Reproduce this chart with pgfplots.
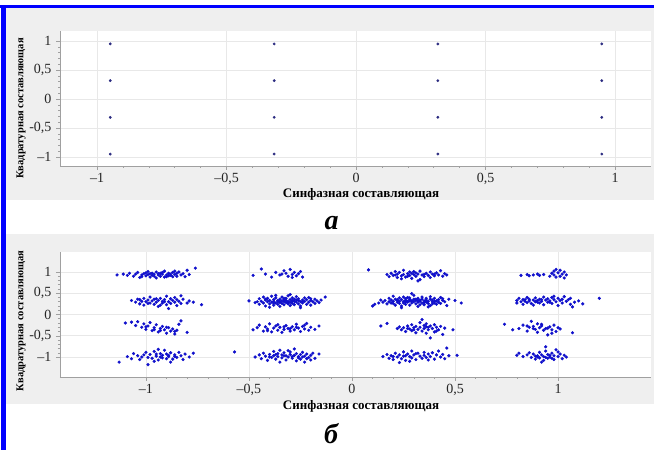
\documentclass[border=0pt]{standalone}
\usepackage{fontspec}
\setmainfont{Liberation Serif}
\usepackage{pgfplots}
\usepackage{pgfplotstable}
\pgfplotsset{compat=1.18}

\definecolor{panelbg}{HTML}{EFEFEF}
\definecolor{frameblue}{HTML}{0000FF}
\definecolor{idealpt}{HTML}{2A2A80}
\definecolor{noisypt}{HTML}{1010CC}
\definecolor{axgray}{HTML}{A0A0A0}
\definecolor{gridgray}{HTML}{E8E8E8}

% ideal 16-QAM constellation
\pgfplotstableread{
x y
-0.949 0.949
-0.949 0.316
-0.949 -0.316
-0.949 -0.949
-0.316 0.949
-0.316 0.316
-0.316 -0.316
-0.316 -0.949
0.316 0.949
0.316 0.316
0.316 -0.316
0.316 -0.949
0.949 0.949
0.949 0.316
0.949 -0.316
0.949 -0.949
}\ideal

% received symbols, column I = -0.95
\pgfplotstableread{
x y
-1.14 0.93
-1.11 0.95
-1.09 0.92
-1.08 0.97
-1.06 0.90
-1.05 0.95
-1.04 0.99
-1.03 0.87
-1.02 0.93
-1.01 0.96
-1.00 0.91
-0.99 1.01
-0.99 0.94
-0.98 0.88
-0.97 0.97
-0.97 0.92
-0.96 0.95
-0.95 0.86
-0.95 1.00
-0.94 0.93
-0.93 0.97
-0.93 0.90
-0.92 0.95
-0.91 0.88
-0.91 1.02
-0.90 0.93
-0.89 0.97
-0.89 0.91
-0.88 0.95
-0.87 0.99
-0.87 0.89
-0.86 0.94
-0.85 0.97
-0.85 0.90
-0.84 1.00
-0.83 0.93
-0.82 0.96
-0.81 0.89
-0.80 1.04
-0.79 0.94
-0.76 1.09
-1.00 0.98
-0.96 0.90
-0.92 0.99
-0.94 0.96
-0.90 0.89
-0.88 0.92
-1.02 0.89
-0.98 0.96
-0.86 1.02
-1.07 0.33
-1.05 0.29
-1.04 0.36
-1.03 0.25
-1.02 0.31
-1.01 0.38
-1.01 0.22
-1.00 0.30
-0.99 0.34
-0.98 0.27
-0.98 0.41
-0.97 0.32
-0.96 0.24
-0.96 0.36
-0.95 0.29
-0.94 0.33
-0.94 0.19
-0.93 0.38
-0.92 0.27
-0.92 0.31
-0.91 0.35
-0.90 0.23
-0.90 0.43
-0.89 0.30
-0.88 0.37
-0.88 0.26
-0.87 0.33
-0.86 0.29
-0.86 0.40
-0.85 0.21
-0.85 0.35
-0.84 0.31
-0.83 0.26
-0.83 0.44
-0.82 0.36
-0.80 0.27
-0.79 0.32
-0.77 0.29
-0.73 0.23
-0.99 0.26
-0.95 0.37
-0.93 0.22
-0.89 0.14
-1.03 0.35
-0.91 0.30
-1.10 -0.20
-1.07 -0.18
-1.05 -0.26
-1.04 -0.17
-1.02 -0.30
-1.01 -0.22
-1.00 -0.35
-0.99 -0.27
-0.98 -0.19
-0.97 -0.38
-0.96 -0.31
-0.95 -0.24
-0.94 -0.41
-0.93 -0.33
-0.92 -0.28
-0.91 -0.36
-0.90 -0.44
-0.89 -0.31
-0.88 -0.39
-0.87 -0.34
-0.86 -0.46
-0.85 -0.37
-0.84 -0.23
-0.83 -0.15
-0.80 -0.42
-0.93 -0.38
-1.00 -0.29
-0.96 -0.36
-0.90 -0.30
-0.86 -0.40
-1.13 -1.12
-1.09 -0.99
-1.07 -1.04
-1.06 -0.92
-1.04 -0.97
-1.03 -1.06
-1.01 -0.95
-1.00 -0.89
-0.99 -1.01
-0.99 -1.18
-0.98 -0.94
-0.97 -1.03
-0.96 -0.87
-0.95 -0.98
-0.94 -1.07
-0.93 -0.92
-0.93 -1.00
-0.92 -0.96
-0.91 -0.84
-0.90 -1.04
-0.90 -0.93
-0.89 -0.99
-0.88 -0.90
-0.87 -1.05
-0.86 -0.95
-0.85 -1.01
-0.84 -0.89
-0.83 -0.97
-0.82 -1.06
-0.81 -0.93
-0.79 -1.00
-0.77 -0.91
-0.96 -1.10
-0.92 -1.02
-0.95 -0.93
-0.89 -0.96
-1.02 -1.00
-0.88 -1.12
-0.94 -0.82
-0.86 -0.99
}\colA

% received symbols, column I = -0.32
\pgfplotstableread{
x y
-0.48 0.92
-0.44 1.07
-0.42 0.95
-0.39 0.88
-0.37 0.99
-0.35 0.93
-0.33 1.03
-0.32 0.97
-0.31 0.90
-0.30 1.06
-0.29 0.94
-0.28 0.99
-0.27 0.91
-0.26 0.96
-0.25 1.01
-0.24 0.88
-0.34 0.95
-0.29 0.87
-0.50 0.32
-0.47 0.28
-0.45 0.37
-0.45 0.24
-0.44 0.31
-0.43 0.41
-0.43 0.27
-0.42 0.34
-0.42 0.20
-0.41 0.30
-0.41 0.38
-0.40 0.25
-0.40 0.33
-0.39 0.29
-0.39 0.43
-0.38 0.35
-0.38 0.22
-0.38 0.31
-0.37 0.27
-0.37 0.39
-0.36 0.33
-0.36 0.24
-0.36 0.30
-0.35 0.36
-0.35 0.28
-0.35 0.19
-0.34 0.32
-0.34 0.41
-0.34 0.26
-0.33 0.30
-0.33 0.35
-0.33 0.23
-0.32 0.38
-0.32 0.28
-0.32 0.33
-0.31 0.25
-0.31 0.31
-0.31 0.44
-0.30 0.35
-0.30 0.21
-0.30 0.29
-0.29 0.33
-0.29 0.39
-0.29 0.26
-0.28 0.31
-0.28 0.23
-0.28 0.36
-0.27 0.29
-0.27 0.42
-0.26 0.33
-0.26 0.25
-0.26 0.37
-0.25 0.30
-0.25 0.20
-0.24 0.34
-0.24 0.27
-0.23 0.39
-0.23 0.31
-0.22 0.24
-0.22 0.35
-0.21 0.29
-0.21 0.40
-0.20 0.33
-0.20 0.22
-0.19 0.30
-0.18 0.36
-0.18 0.26
-0.17 0.32
-0.16 0.28
-0.15 0.34
-0.13 0.41
-0.37 0.45
-0.30 0.47
-0.25 0.16
-0.40 0.17
-0.33 0.38
-0.27 0.34
-0.35 0.31
-0.31 0.27
-0.38 0.27
-0.24 0.30
-0.29 0.30
-0.42 0.36
-0.20 0.37
-0.46 0.30
-0.48 -0.36
-0.46 -0.31
-0.45 -0.25
-0.43 -0.39
-0.42 -0.29
-0.41 -0.34
-0.40 -0.22
-0.39 -0.41
-0.38 -0.32
-0.37 -0.27
-0.36 -0.37
-0.35 -0.30
-0.34 -0.42
-0.33 -0.35
-0.32 -0.26
-0.31 -0.33
-0.30 -0.39
-0.29 -0.29
-0.28 -0.36
-0.27 -0.23
-0.26 -0.32
-0.25 -0.40
-0.24 -0.28
-0.23 -0.34
-0.22 -0.21
-0.21 -0.37
-0.20 -0.30
-0.18 -0.35
-0.16 -0.27
-0.36 -0.24
-0.30 -0.33
-0.27 -0.30
-0.33 -0.29
-0.41 -0.38
-0.23 -0.25
-0.57 -0.88
-0.47 -1.00
-0.45 -0.95
-0.44 -1.04
-0.43 -0.91
-0.42 -0.98
-0.41 -1.08
-0.40 -0.94
-0.39 -1.01
-0.38 -0.87
-0.38 -0.97
-0.37 -1.05
-0.36 -0.92
-0.36 -0.99
-0.35 -0.84
-0.34 -1.02
-0.34 -0.95
-0.33 -0.90
-0.32 -1.07
-0.32 -0.97
-0.31 -1.00
-0.30 -0.88
-0.30 -0.94
-0.29 -1.03
-0.28 -0.96
-0.28 -0.81
-0.27 -1.09
-0.27 -0.92
-0.26 -0.99
-0.25 -0.94
-0.25 -1.05
-0.24 -0.89
-0.23 -0.98
-0.23 -1.12
-0.22 -0.93
-0.21 -1.01
-0.20 -0.96
-0.20 -1.07
-0.19 -0.91
-0.18 -1.03
-0.16 -0.93
-0.35 -1.12
-0.31 -0.85
-0.29 -0.99
-0.26 -1.02
-0.33 -0.97
-0.40 -1.00
-0.22 -1.04
-0.37 -0.94
-0.24 -1.00
}\colB

% received symbols, column I = 0.30
\pgfplotstableread{
x y
0.08 1.05
0.17 0.94
0.18 0.89
0.19 0.97
0.20 0.92
0.21 1.01
0.22 0.87
0.22 0.95
0.23 0.99
0.24 0.91
0.25 0.94
0.25 1.04
0.26 0.88
0.27 0.96
0.28 0.92
0.28 1.00
0.29 0.85
0.30 0.94
0.31 0.98
0.31 0.90
0.32 0.95
0.33 0.82
0.33 1.02
0.34 0.93
0.35 0.89
0.36 0.97
0.37 0.92
0.38 1.00
0.38 0.87
0.39 0.95
0.40 0.91
0.41 0.98
0.42 0.93
0.43 1.03
0.44 0.90
0.45 0.96
0.46 0.93
0.24 0.84
0.29 0.97
0.35 0.94
0.27 0.90
0.32 0.79
0.40 0.95
0.21 0.93
0.30 1.01
0.10 0.20
0.11 0.24
0.13 0.27
0.14 0.34
0.15 0.29
0.16 0.33
0.17 0.25
0.18 0.38
0.18 0.30
0.19 0.34
0.19 0.27
0.20 0.43
0.20 0.31
0.21 0.36
0.21 0.22
0.22 0.29
0.22 0.33
0.23 0.39
0.23 0.26
0.23 0.31
0.24 0.35
0.24 0.20
0.25 0.30
0.25 0.41
0.25 0.27
0.26 0.33
0.26 0.37
0.26 0.24
0.27 0.31
0.27 0.29
0.28 0.35
0.28 0.22
0.28 0.39
0.29 0.32
0.29 0.27
0.30 0.36
0.30 0.30
0.30 0.45
0.31 0.25
0.31 0.33
0.32 0.38
0.32 0.29
0.32 0.19
0.33 0.34
0.33 0.31
0.34 0.27
0.34 0.41
0.34 0.36
0.35 0.23
0.35 0.32
0.36 0.29
0.36 0.38
0.36 0.34
0.37 0.26
0.37 0.31
0.38 0.36
0.38 0.42
0.38 0.21
0.39 0.30
0.39 0.34
0.40 0.27
0.40 0.38
0.41 0.32
0.41 0.24
0.42 0.35
0.42 0.29
0.43 0.40
0.43 0.26
0.44 0.33
0.45 0.30
0.46 0.21
0.47 0.36
0.50 0.33
0.53 0.27
0.29 0.49
0.24 0.16
0.37 0.18
0.26 0.30
0.31 0.36
0.35 0.28
0.22 0.35
0.33 0.23
0.40 0.31
0.28 0.32
0.44 0.37
0.20 0.26
0.27 0.40
0.32 0.33
0.39 0.25
0.36 0.31
0.14 -0.27
0.17 -0.21
0.22 -0.33
0.23 -0.29
0.24 -0.36
0.25 -0.31
0.26 -0.40
0.27 -0.27
0.28 -0.34
0.29 -0.38
0.29 -0.24
0.30 -0.31
0.31 -0.43
0.31 -0.28
0.32 -0.35
0.33 -0.19
0.33 -0.30
0.34 -0.39
0.35 -0.26
0.35 -0.33
0.36 -0.44
0.36 -0.22
0.37 -0.30
0.37 -0.36
0.38 -0.27
0.38 -0.55
0.39 -0.33
0.40 -0.41
0.40 -0.24
0.41 -0.30
0.42 -0.36
0.43 -0.28
0.44 -0.47
0.45 -0.32
0.49 -0.36
0.34 -0.12
0.30 -0.36
0.27 -0.33
0.36 -0.29
0.41 -0.39
0.15 -0.99
0.17 -0.94
0.18 -1.03
0.19 -0.97
0.20 -1.06
0.21 -0.91
0.22 -1.00
0.23 -0.95
0.23 -1.13
0.24 -1.04
0.25 -0.88
0.25 -0.98
0.26 -1.08
0.27 -0.93
0.28 -0.99
0.29 -0.86
0.29 -1.02
0.30 -0.95
0.31 -1.06
0.32 -0.91
0.33 -0.98
0.34 -1.03
0.35 -0.89
0.35 -0.96
0.36 -1.01
0.37 -0.93
0.38 -0.99
0.39 -0.90
0.40 -1.05
0.41 -0.95
0.42 -0.86
0.43 -1.00
0.44 -0.94
0.45 -1.04
0.46 -0.79
0.47 -0.97
0.51 -0.96
0.26 -0.97
0.31 -0.92
0.20 -0.99
0.37 -1.07
0.28 -1.10
}\colC

% received symbols, column I = 0.92
\pgfplotstableread{
x y
0.82 0.92
0.85 0.94
0.86 0.91
0.88 0.93
0.90 0.95
0.91 0.92
0.93 0.94
0.96 0.90
0.97 0.97
0.98 1.02
0.98 0.93
0.99 1.06
1.00 0.98
1.01 0.90
1.01 1.04
1.02 0.95
1.03 0.86
1.03 1.00
1.04 0.93
0.99 0.88
0.80 0.33
0.80 0.27
0.81 0.38
0.82 0.30
0.83 0.24
0.83 0.35
0.84 0.31
0.85 0.28
0.86 0.36
0.86 0.32
0.87 0.26
0.88 0.34
0.89 0.30
0.89 0.39
0.90 0.33
0.91 0.27
0.91 0.36
0.92 0.31
0.93 0.41
0.93 0.23
0.94 0.34
0.95 0.29
0.95 0.37
0.96 0.32
0.97 0.26
0.97 0.40
0.98 0.35
0.99 0.30
1.00 0.21
1.00 0.38
1.01 0.33
1.02 0.27
1.03 0.42
1.04 0.31
1.05 0.35
1.06 0.24
1.06 0.38
1.07 0.18
1.08 0.29
1.10 0.32
1.12 0.25
1.20 0.38
0.85 0.40
0.92 0.35
0.88 0.22
0.96 0.29
1.02 0.36
0.90 0.29
0.98 0.43
0.84 0.35
0.74 -0.23
0.78 -0.36
0.81 -0.33
0.83 -0.25
0.85 -0.39
0.86 -0.30
0.87 -0.16
0.88 -0.28
0.89 -0.35
0.90 -0.22
0.90 -0.42
0.91 -0.31
0.92 -0.27
0.93 -0.37
0.94 -0.33
0.95 -0.48
0.96 -0.29
0.97 -0.36
0.98 -0.25
0.99 -0.40
1.00 -0.31
1.01 -0.34
1.07 -0.43
0.92 -0.23
0.88 -0.33
0.95 -0.32
0.85 -0.27
0.97 -0.44
0.80 -0.96
0.81 -0.91
0.83 -0.99
0.85 -0.95
0.87 -1.01
0.88 -0.93
0.89 -1.05
0.90 -0.97
0.91 -0.89
0.91 -1.02
0.92 -0.95
0.93 -1.08
0.93 -0.99
0.94 -0.86
0.95 -1.03
0.95 -0.94
0.96 -1.00
0.97 -0.91
0.98 -1.06
0.98 -0.97
0.99 -0.83
1.00 -0.99
1.01 -0.93
1.02 -1.04
1.03 -0.96
1.04 -1.00
0.92 -1.12
0.89 -0.98
0.96 -0.96
0.94 -1.01
0.86 -0.90
1.00 -0.88
0.97 -1.03
0.90 -1.00
0.94 -0.76
}\colD

\pgfplotsset{
  iqaxis/.style={
    scale only axis,
    anchor=south west,
    axis x line*=bottom,
    axis y line*=left,
    axis line style={draw=axgray,-},
    tick style={draw=axgray, line width=0.5pt},
    tick align=outside,
    major tick length=4pt,
    minor tick length=2pt,
    minor x tick num=4,
    minor y tick num=4,
    grid=major,
    major grid style={draw=gridgray, line width=0.6pt},
    axis background/.style={fill=white},
    xtick={-1,-0.5,0,0.5,1},
    xticklabels={{\textendash1},{\textendash0,5},0,{0,5},1},
    ytick={-1,-0.5,0,0.5,1},
    yticklabels={{\textendash1},{-0,5},0,{0,5},1},
    tick label style={font=\fontsize{14}{14}\selectfont, text=black!85},
    xticklabel style={yshift=0pt},
    yticklabel style={xshift=-1pt},
    clip=false,
  }
}

\begin{document}
\begin{tikzpicture}
  \path[use as bounding box] (0pt,0pt) rectangle (654pt,450pt);
  % panel backgrounds
  \fill[panelbg] (6pt,250pt) rectangle (654pt,442pt);
  \fill[panelbg] (6pt,46pt) rectangle (654pt,216pt);
  % frame
  \fill[frameblue] (0pt,442pt) rectangle (654pt,445pt);
  \fill[frameblue] (1pt,0pt) rectangle (6pt,445pt);

  % (a) ideal constellation
  \begin{axis}[iqaxis, at={(60pt,284pt)}, width=591pt, height=135pt,
      xmin=-1.143, xmax=1.139, ymin=-1.155, ymax=1.172]
    \addplot[only marks, mark=*, mark size=1.2pt, color=idealpt] table {\ideal};
  \end{axis}

  % (b) received symbols with noise
  \begin{axis}[iqaxis, at={(60pt,73pt)}, width=591pt, height=125pt,
      xmin=-1.417, xmax=1.451, ymin=-1.47, ymax=1.47]
    \addplot[only marks, mark=*, mark size=1.4pt, color=noisypt] table {\colA};
    \addplot[only marks, mark=*, mark size=1.4pt, color=noisypt] table {\colB};
    \addplot[only marks, mark=*, mark size=1.4pt, color=noisypt] table {\colC};
    \addplot[only marks, mark=*, mark size=1.4pt, color=noisypt] table {\colD};
  \end{axis}

  % axis titles
  \node[anchor=base, font=\bfseries\fontsize{13}{13}\selectfont] at (361pt,252.5pt) {Синфазная составляющая};
  \node[anchor=base, font=\bfseries\fontsize{13}{13}\selectfont] at (361pt,40pt) {Синфазная составляющая};
  \node[rotate=90, font=\bfseries\fontsize{10.5}{10.5}\selectfont] at (21pt,341.5pt) {Квадратурная составляющая};
  \node[rotate=90, font=\bfseries\fontsize{10.5}{10.5}\selectfont] at (21pt,129pt) {Квадратурная составляющая};

  % panel captions
  \node[anchor=base, font=\bfseries\itshape\fontsize{28}{28}\selectfont] at (331.5pt,220pt) {а};
  \node[anchor=base, font=\bfseries\itshape\fontsize{28}{28}\selectfont] at (331pt,6pt) {б};
\end{tikzpicture}
\end{document}
